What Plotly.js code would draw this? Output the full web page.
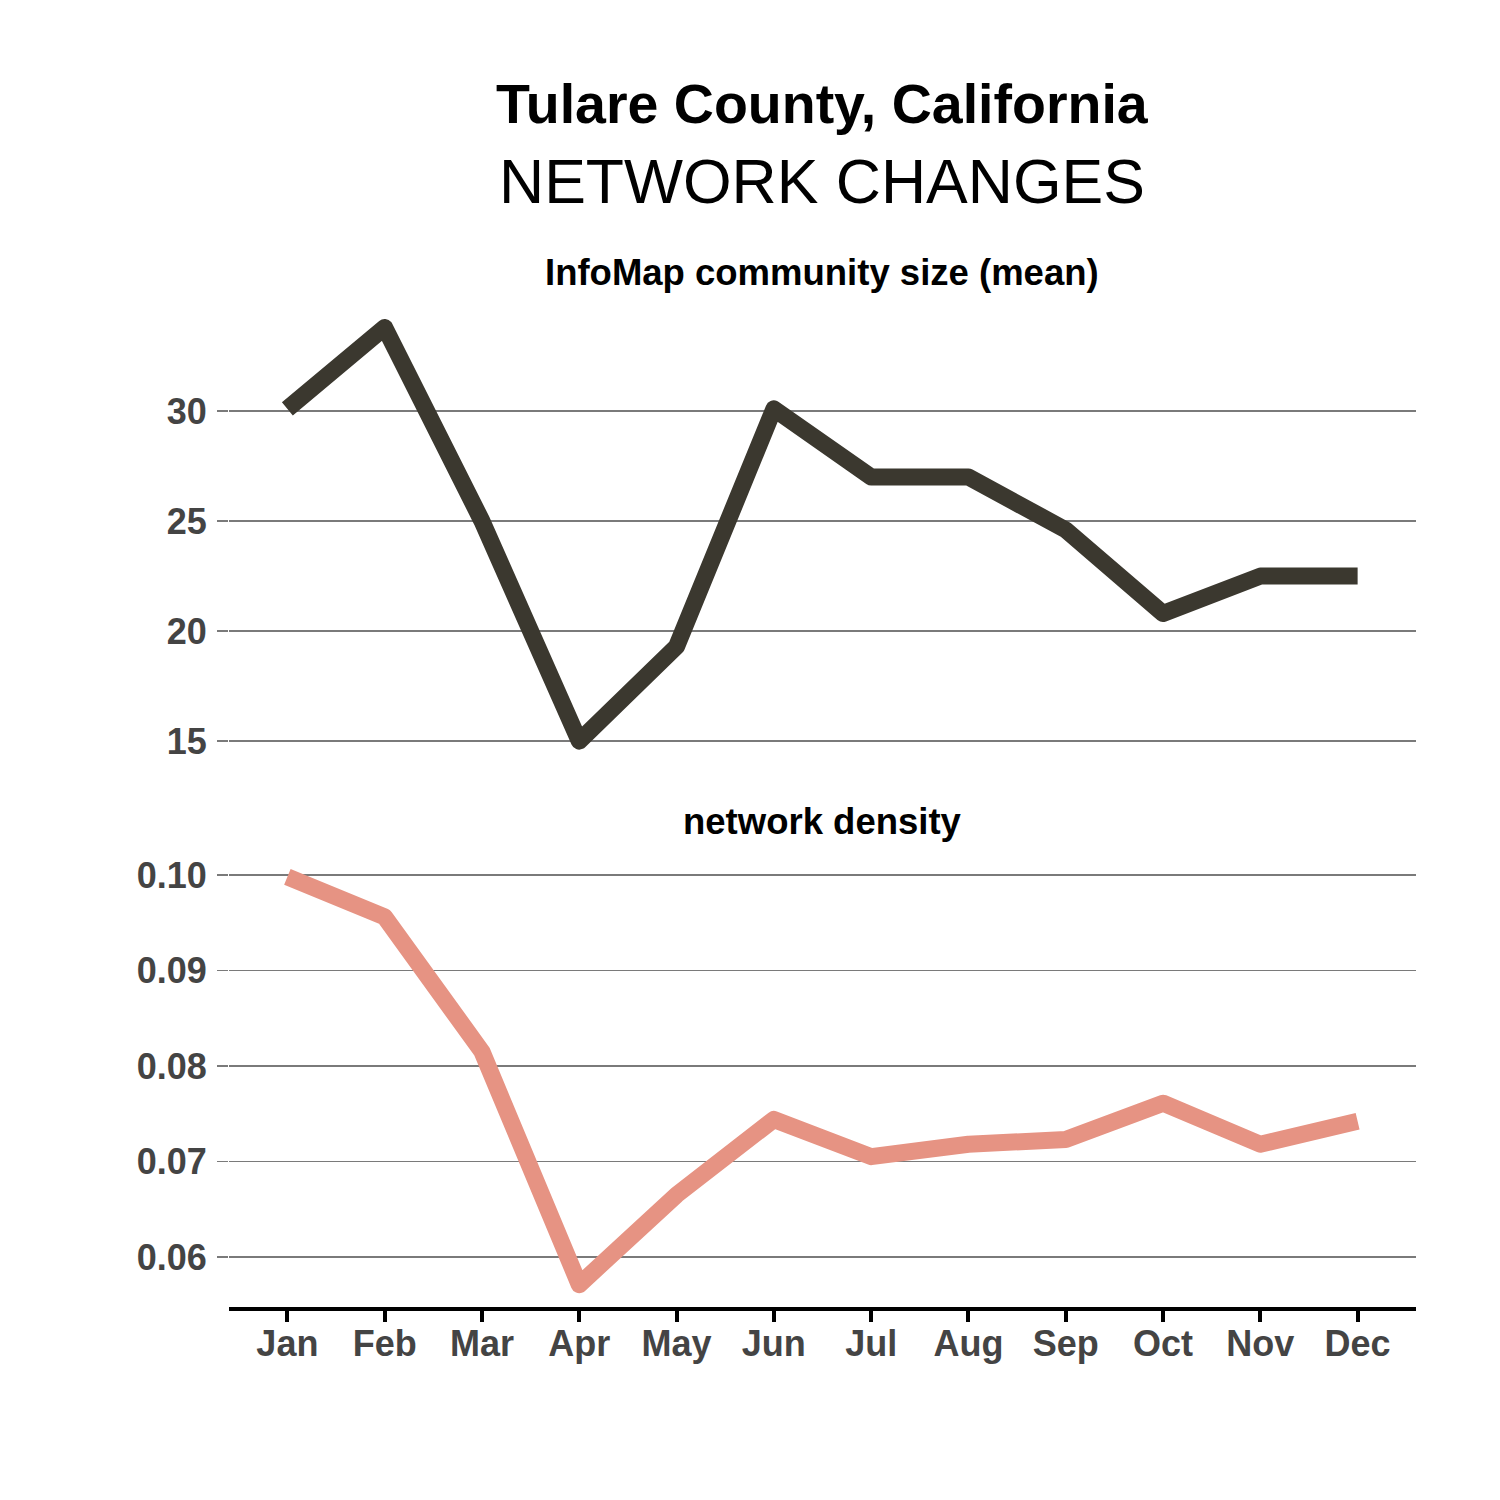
<!DOCTYPE html>
<html>
<head>
<meta charset="utf-8">
<script src="https://cdn.plot.ly/plotly-3.0.1.min.js"></script>
<style>
  html, body { margin: 0; padding: 0; background: #fff; }
  #chart { width: 1500px; height: 1500px; }
  .js-line { stroke-linejoin: round !important; stroke-linecap: butt !important; }
</style>
</head>
<body>
<div id="chart"></div>
<script>
const months = ["Jan", "Feb", "Mar", "Apr", "May", "Jun", "Jul", "Aug", "Sep", "Oct", "Nov", "Dec"];
const communitySize = [30.1, 33.8, 25.0, 15.0, 19.3, 30.1, 27.0, 27.0, 24.6, 20.8, 22.5, 22.5];
const networkDensity = [0.0998, 0.0956, 0.0815, 0.0571, 0.0665, 0.0744, 0.0705, 0.0718, 0.0723, 0.0761, 0.0718, 0.0742];
const sizeTicks = [15, 20, 25, 30];
const densityTicks = [0.06, 0.07, 0.08, 0.09, 0.10];
const densityTickText = ["0.06", "0.07", "0.08", "0.09", "0.10"];

const titleMain = "Tulare County, California";
const titleSub = "NETWORK CHANGES";
const panelTitles = ["InfoMap community size (mean)", "network density"];

const FONT = "Liberation Sans, Arial, Helvetica, sans-serif";
const H = 1500;
const py = v => 1 - v / H;

const traces = [
  {
    x: months, y: communitySize, xaxis: "x2", yaxis: "y2",
    type: "scatter", mode: "lines",
    line: { color: "#3b382f", width: 17 },
    hoverinfo: "skip"
  },
  {
    x: months, y: networkDensity, xaxis: "x", yaxis: "y",
    type: "scatter", mode: "lines",
    line: { color: "#e69383", width: 17 },
    hoverinfo: "skip"
  }
];

const yCommon = {
  showgrid: true, gridcolor: "#7a7a7a", gridwidth: 1.5,
  zeroline: false, showline: false,
  ticks: "outside", ticklen: 11, tickcolor: "#7a7a7a", tickwidth: 1.5,
  tickfont: { family: FONT, size: 36, color: "#444444", weight: "bold" },
  ticklabelstandoff: 3,
  automargin: false, fixedrange: true
};

const xDomain = [229 / 1500, 1416 / 1500];

const layout = {
  width: 1500, height: 1500,
  margin: { l: 0, r: 0, t: 0, b: 0, pad: 0 },
  paper_bgcolor: "#ffffff", plot_bgcolor: "#ffffff",
  showlegend: false,
  xaxis: {
    domain: xDomain, anchor: "y", type: "category",
    categoryorder: "array", categoryarray: months,
    range: [-0.6, 11.6],
    showgrid: false, zeroline: false,
    showline: true, linecolor: "#000000", linewidth: 4,
    ticks: "outside", ticklen: 11, tickcolor: "#000000", tickwidth: 4,
    tickfont: { family: FONT, size: 36, color: "#444444", weight: "bold" },
    ticklabelstandoff: -9,
    automargin: false, fixedrange: true
  },
  xaxis2: {
    domain: xDomain, anchor: "y2", type: "category",
    categoryorder: "array", categoryarray: months,
    range: [-0.6, 11.6],
    showgrid: false, zeroline: false, showline: false,
    showticklabels: false, ticks: "",
    automargin: false, fixedrange: true
  },
  yaxis: Object.assign({}, yCommon, {
    domain: [py(1307), py(857)], anchor: "x",
    range: [0.05476, 0.10188],
    tickmode: "array", tickvals: densityTicks, ticktext: densityTickText
  }),
  yaxis2: Object.assign({}, yCommon, {
    domain: [py(762), py(307)], anchor: "x2",
    range: [14.05, 34.73],
    tickmode: "array", tickvals: sizeTicks, ticktext: sizeTicks.map(String)
  }),
  annotations: [
    { text: titleMain, xref: "paper", yref: "paper", x: 822 / 1500, y: py(104),
      xanchor: "center", yanchor: "middle", showarrow: false,
      font: { family: FONT, size: 55.5, color: "#000000", weight: "bold" } },
    { text: titleSub, xref: "paper", yref: "paper", x: 822 / 1500, y: py(181),
      xanchor: "center", yanchor: "middle", showarrow: false,
      font: { family: FONT, size: 62.5, color: "#000000" } },
    { text: panelTitles[0], xref: "paper", yref: "paper", x: 822 / 1500, y: py(273),
      xanchor: "center", yanchor: "middle", showarrow: false,
      font: { family: FONT, size: 36.5, color: "#000000", weight: "bold" } },
    { text: panelTitles[1], xref: "paper", yref: "paper", x: 822 / 1500, y: py(821),
      xanchor: "center", yanchor: "middle", showarrow: false,
      font: { family: FONT, size: 36.5, color: "#000000", weight: "bold" } }
  ]
};

Plotly.newPlot("chart", traces, layout, { staticPlot: true, displayModeBar: false });
</script>
</body>
</html>
